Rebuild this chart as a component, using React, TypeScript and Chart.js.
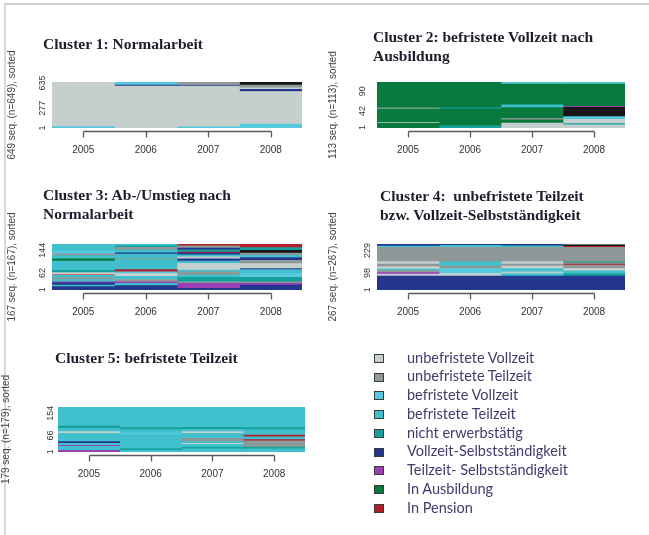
import React, { useEffect, useRef } from 'react';
import { Chart, registerables } from 'chart.js';

Chart.register(...registerables);

// ---------- data ----------
const years = ['2005', '2006', '2007', '2008'];

const stateLabels = [
  'unbefristete Vollzeit',
  'unbefristete Teilzeit',
  'befristete Vollzeit',
  'befristete Teilzeit',
  'nicht erwerbstätig',
  'Vollzeit-Selbstständigkeit',
  'Teilzeit- Selbstständigkeit',
  'In Ausbildung',
  'In Pension',
];

// index 9 = state without legend entry (drawn black)
const stateColors = [
  '#c4cfce',
  '#8e9898',
  '#55c9de',
  '#3fc0cc',
  '#14a09c',
  '#23378f',
  '#9b3db5',
  '#087a3d',
  '#b21f2a',
  '#161616',
];

// [state index, number of sequences], from bottom to top, one list per year
const cluster1 = [
  [[2, 20], [0, 629]],
  [[0, 590], [5, 14], [2, 45]],
  [[2, 15], [0, 575], [5, 12], [1, 47]],
  [[2, 55], [0, 460], [5, 30], [0, 20], [1, 40], [9, 44]],
];

const cluster2 = [
  [[7, 12], [0, 2], [7, 33], [0, 2], [7, 64]],
  [[4, 6], [7, 41], [4, 3], [7, 63]],
  [[0, 12], [7, 8], [1, 4], [7, 26], [3, 7], [7, 51], [2, 5]],
  [[0, 8], [4, 3], [0, 10], [2, 7], [9, 23], [6, 2], [7, 55], [2, 5]],
];

const cluster3 = [
  [[5, 12], [3, 6], [5, 8], [6, 4], [3, 8], [1, 7], [3, 8], [8, 2], [0, 8], [4, 8], [3, 34], [7, 8], [3, 12], [1, 6], [2, 12], [3, 24]],
  [[5, 16], [3, 8], [6, 6], [1, 8], [3, 12], [0, 10], [2, 6], [8, 8], [3, 36], [1, 4], [3, 16], [5, 5], [3, 10], [1, 10], [4, 5], [3, 7]],
  [[5, 6], [6, 18], [1, 6], [4, 16], [3, 8], [1, 12], [3, 6], [0, 25], [3, 8], [5, 8], [0, 7], [3, 8], [5, 6], [8, 4], [4, 8], [5, 6], [1, 8], [8, 7]],
  [[5, 18], [6, 6], [1, 6], [4, 16], [2, 14], [3, 14], [5, 4], [0, 18], [1, 12], [5, 10], [3, 8], [1, 8], [9, 10], [4, 10], [8, 13]],
];

const cluster4 = [
  [[5, 81], [0, 12], [6, 8], [1, 12], [3, 8], [0, 15], [1, 15], [0, 14], [1, 82], [3, 8], [5, 12]],
  [[5, 81], [0, 15], [2, 29], [1, 14], [3, 25], [1, 83], [3, 12], [5, 8]],
  [[5, 81], [3, 15], [0, 10], [3, 19], [0, 14], [1, 12], [0, 14], [1, 83], [3, 8], [5, 11]],
  [[5, 81], [4, 15], [3, 15], [0, 14], [1, 19], [8, 6], [1, 8], [4, 6], [1, 83], [8, 6], [9, 9], [0, 5]],
];

const cluster5 = [
  [[6, 7], [3, 16], [6, 4], [3, 7], [5, 7], [3, 33], [0, 7], [3, 13], [4, 9], [3, 76]],
  [[3, 7], [4, 7], [3, 53], [2, 9], [3, 13], [4, 8], [3, 82]],
  [[3, 13], [4, 7], [3, 11], [0, 3], [3, 7], [1, 13], [3, 20], [0, 7], [3, 9], [4, 8], [3, 81]],
  [[3, 13], [4, 7], [1, 24], [8, 5], [3, 11], [8, 7], [3, 22], [4, 8], [3, 82]],
];

const clusterSeqs = [cluster1, cluster2, cluster3, cluster4, cluster5];
const clusterSizes = [649, 113, 167, 267, 179];
const clusterTicks = [
  [1, 277, 635],
  [1, 42, 90],
  [1, 62, 144],
  [1, 98, 229],
  [1, 66, 154],
];
const clusterTitles = [
  ['Cluster 1: Normalarbeit'],
  ['Cluster 2: befristete Vollzeit nach', 'Ausbildung'],
  ['Cluster 3: Ab-/Umstieg nach', 'Normalarbeit'],
  ['Cluster 4:  unbefristete Teilzeit', 'bzw. Vollzeit-Selbstständigkeit'],
  ['Cluster 5: befristete Teilzeit'],
];

// ---------- layout (page pixels) ----------
const panelLayout = [
  { L: 52, R: 302, T: 82, B: 128, cx: 0, titlePad: 6, tickPad: 2, tx: 43, ty: 33.6 },
  { L: 377, R: 625, T: 82, B: 128, cx: 325, titlePad: 2, tickPad: 9, tx: 373, ty: 26.8 },
  { L: 52, R: 302, T: 244, B: 290, cx: 0, titlePad: 6, tickPad: 2, tx: 43, ty: 185 },
  { L: 377, R: 625, T: 244, B: 290, cx: 325, titlePad: 2, tickPad: 2, tx: 380, ty: 186 },
  { L: 58, R: 305, T: 407, B: 452, cx: 0, titlePad: 0, tickPad: 0, tx: 55, ty: 348 },
];

const PAD_TOP = 45;
const PAD_BOTTOM = 40;
const PAD_RIGHT = 4;
const X_AXIS_H = 34;

const rAxisPlugin = {
  id: 'rAxis',
  afterDraw(chart: any) {
    const x = chart.scales.x;
    const ctx = chart.ctx;
    const y0 = Math.round(chart.chartArea.bottom + 3) + 0.5;
    const first = Math.round(x.getPixelForValue(0)) + 0.5;
    const last = Math.round(x.getPixelForValue(years.length - 1)) + 0.5;
    ctx.save();
    ctx.strokeStyle = '#5a5a5a';
    ctx.lineWidth = 1.3;
    ctx.beginPath();
    ctx.moveTo(first, y0);
    ctx.lineTo(last, y0);
    for (let i = 0; i < years.length; i++) {
      const px = Math.round(x.getPixelForValue(i)) + 0.5;
      ctx.moveTo(px, y0);
      ctx.lineTo(px, y0 + 6);
    }
    ctx.stroke();
    ctx.restore();
  },
};

function Panel({ idx }: { idx: number }) {
  const ref = useRef<HTMLCanvasElement | null>(null);
  const lay = panelLayout[idx];
  const yw = lay.L - lay.cx;
  const w = yw + (lay.R - lay.L) + PAD_RIGHT;
  const h = PAD_TOP + (lay.B - lay.T) + X_AXIS_H + PAD_BOTTOM;

  useEffect(() => {
    const n = clusterSizes[idx];
    const ticks = clusterTicks[idx];
    const datasets: any[] = [];
    clusterSeqs[idx].forEach((yearSegs, yi) => {
      yearSegs.forEach(([st, cnt]) => {
        datasets.push({
          data: years.map((_, j) => (j === yi ? cnt : null)),
          backgroundColor: stateColors[st],
          borderWidth: 0,
          barPercentage: 1,
          categoryPercentage: 1,
        });
      });
    });

    const chart = new Chart(ref.current as HTMLCanvasElement, {
      type: 'bar',
      data: { labels: years, datasets },
      plugins: [rAxisPlugin],
      options: {
        responsive: false,
        maintainAspectRatio: false,
        animation: false,
        devicePixelRatio: 1,
        layout: { padding: { top: PAD_TOP, right: PAD_RIGHT, left: 0, bottom: PAD_BOTTOM } },
        plugins: {
          legend: { display: false },
          tooltip: { enabled: false },
          title: { display: false },
        },
        scales: {
          x: {
            type: 'category',
            stacked: true,
            grid: { display: false, drawTicks: false },
            border: { display: false },
            ticks: {
              color: '#333',
              font: { family: 'Liberation Sans', size: 10 },
              padding: 16,
              maxRotation: 0,
              autoSkip: false,
            },
            afterFit: (s: any) => {
              s.height = X_AXIS_H;
            },
          },
          y: {
            type: 'linear',
            stacked: true,
            min: 0,
            max: n,
            grid: { display: false, drawTicks: false },
            border: { display: false },
            ticks: {
              color: '#333',
              font: { family: 'Liberation Sans', size: 9 },
              minRotation: 90,
              maxRotation: 90,
              crossAlign: 'center',
              padding: lay.tickPad,
              autoSkip: false,
              callback: (v: any) => String(v),
            },
            afterBuildTicks: (s: any) => {
              s.ticks = ticks.map((v) => ({ value: v }));
            },
            afterFit: (s: any) => {
              s.width = yw;
            },
            title: {
              display: true,
              text: `${n} seq. (n=${n}), sorted`,
              color: '#444',
              font: { family: 'Liberation Sans', size: 10, lineHeight: 1.2 },
              padding: { top: lay.titlePad, bottom: 0 },
            },
          },
        },
      } as any,
    });
    return () => chart.destroy();
  }, [idx]);

  return (
    <>
      <canvas
        ref={ref}
        width={w}
        height={h}
        style={{ position: 'absolute', left: lay.cx, top: lay.T - PAD_TOP, width: w, height: h }}
      />
      <div
        style={{
          position: 'absolute',
          left: lay.tx,
          top: lay.ty,
          fontFamily: '"Liberation Serif", serif',
          fontWeight: 'bold',
          fontSize: 15.5,
          lineHeight: '19px',
          color: '#1d1d2b',
          whiteSpace: 'pre',
        }}
      >
        {clusterTitles[idx].map((t, i) => (
          <div key={i}>{t}</div>
        ))}
      </div>
    </>
  );
}

function Legend() {
  return (
    <>
      {stateLabels.map((lab, i) => {
        const c = 358.3 + i * 18.75;
        return (
          <React.Fragment key={lab}>
            <div
              style={{
                position: 'absolute',
                left: 374,
                top: c - 4.5,
                width: 10,
                height: 9,
                boxSizing: 'border-box',
                border: '1.5px solid #3a3a3a',
                background: stateColors[i],
              }}
            />
            <div
              style={{
                position: 'absolute',
                left: 407,
                top: c - 9.6,
                fontFamily: 'Lato, sans-serif',
                fontSize: 14.5,
                lineHeight: '18px',
                color: '#403c6c',
                whiteSpace: 'nowrap',
              }}
            >
              {lab}
            </div>
          </React.Fragment>
        );
      })}
    </>
  );
}

export default function App() {
  return (
    <div
      style={{
        position: 'absolute',
        left: 0,
        top: 0,
        width: 649,
        height: 535,
        background: '#ffffff',
        overflow: 'hidden',
      }}
    >
      <div
        style={{
          position: 'absolute',
          left: 4,
          top: 3,
          right: 0,
          bottom: 0,
          borderTop: '2px solid #cfcfcf',
          borderLeft: '2px solid #d8d8d8',
        }}
      />
      {[0, 1, 2, 3, 4].map((i) => (
        <Panel key={i} idx={i} />
      ))}
      <Legend />
    </div>
  );
}
